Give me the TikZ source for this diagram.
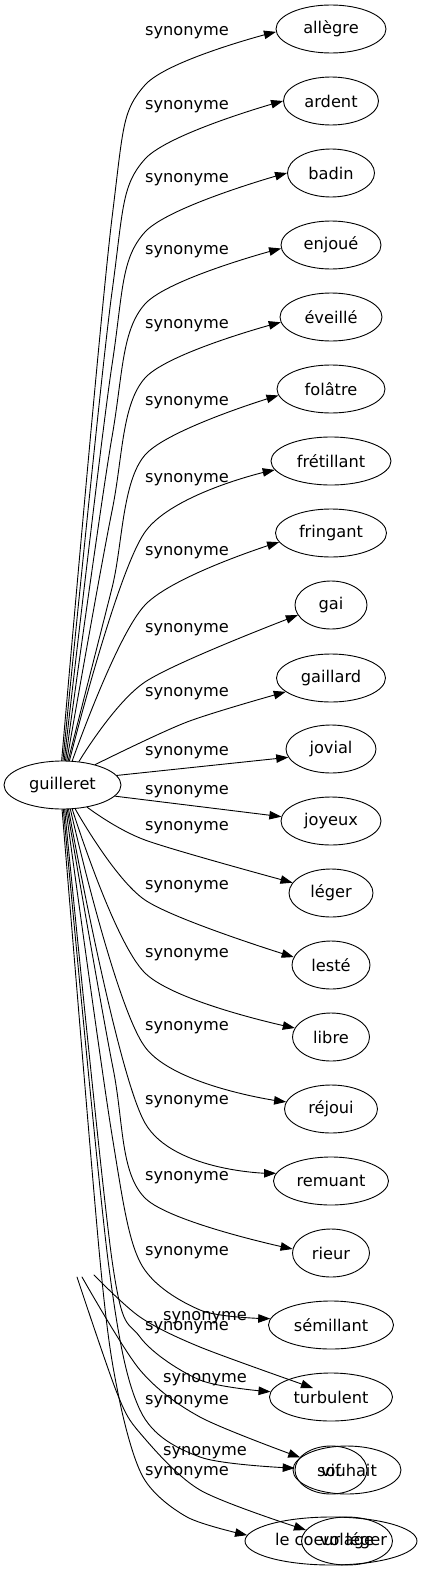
\documentclass[tikz,border=0pt]{standalone}
\usepackage{fontspec}
\setmainfont{DejaVu Sans}
\usetikzlibrary{arrows.meta,shapes.geometric}

\begin{document}
\begin{tikzpicture}[x=1pt,y=-1pt,line cap=round,line join=round,
  word/.style={draw,ellipse,line width=0.9pt,minimum height=48pt,inner sep=0pt,
    font=\fontsize{16.2pt}{19pt}\selectfont},
  lbl/.style={inner sep=0pt,font=\fontsize{16.2pt}{19pt}\selectfont},
  link/.style={line width=0.9pt,-{Triangle[length=12pt,width=8.5pt]}}]

\useasboundingbox (0,0) rectangle (422,1571);

% source word
\node[word,minimum width=117pt] (g) at (62.5,785) {guilleret};

% synonyms, one column
\node[word,minimum width=110pt] (allegre) at (331,29) {allègre};
\node[word,minimum width=95pt] (ardent) at (331,101) {ardent};
\node[word,minimum width=87pt] (badin) at (331,173) {badin};
\node[word,minimum width=100pt] (enjoue) at (331,245) {enjoué};
\node[word,minimum width=102pt] (eveille) at (331,317) {éveillé};
\node[word,minimum width=108pt] (folatre) at (331,389) {folâtre};
\node[word,minimum width=120pt] (fretillant) at (331,461) {frétillant};
\node[word,minimum width=111pt] (fringant) at (331,533) {fringant};
\node[word,minimum width=72pt] (gai) at (331,605) {gai};
\node[word,minimum width=109pt] (gaillard) at (331,678) {gaillard};
\node[word,minimum width=90pt] (jovial) at (331,749) {jovial};
\node[word,minimum width=100pt] (joyeux) at (331,821) {joyeux};
\node[word,minimum width=84pt] (leger) at (331,893) {léger};
\node[word,minimum width=78pt] (leste) at (331,965) {lesté};
\node[word,minimum width=77pt] (libre) at (331,1037) {libre};
\node[word,minimum width=93pt] (rejoui) at (331,1109) {réjoui};
\node[word,minimum width=115pt] (remuant) at (331,1181) {remuant};
\node[word,minimum width=77pt] (rieur) at (331,1253) {rieur};
\node[word,minimum width=125pt] (semillant) at (331,1325) {sémillant};
\node[word,minimum width=123pt] (turbulent) at (331,1397) {turbulent};
\node[word,minimum width=72pt] (vif) at (331,1470) {vif};
\node[word,minimum width=172pt] (coeur) at (331,1541) {le coeur léger};

% second layer lying over the bottom
\node[word,minimum width=108pt] (souhait) at (347,1470) {souhait};
\node[word,minimum width=91pt] (volage) at (347,1541) {volage};
\coordinate (o1) at (94,1275);
\coordinate (o2) at (82,1277);
\coordinate (o3) at (77,1277);
\coordinate (o4) at (313,1388);

% edge labels
\node[lbl] (l1) at (187,33) {synonyme};
\node[lbl] (l2) at (187,107) {synonyme};
\node[lbl] (l3) at (187,180) {synonyme};
\node[lbl] (l4) at (187,252) {synonyme};
\node[lbl] (l5) at (187,326) {synonyme};
\node[lbl] (l6) at (187,403) {synonyme};
\node[lbl] (l7) at (187,480) {synonyme};
\node[lbl] (l8) at (187,553) {synonyme};
\node[lbl] (l9) at (187,630) {synonyme};
\node[lbl] (l10) at (187,694) {synonyme};
\node[lbl] (l11) at (187,753) {synonyme};
\node[lbl] (l12) at (187,792) {synonyme};
\node[lbl] (l13) at (187,828) {synonyme};
\node[lbl] (l14) at (187,887) {synonyme};
\node[lbl] (l15) at (187,955) {synonyme};
\node[lbl] (l16) at (187,1028) {synonyme};
\node[lbl] (l17) at (187,1102) {synonyme};
\node[lbl] (l18) at (187,1178) {synonyme};
\node[lbl] (l19) at (187,1253) {synonyme};
\node[lbl] (l20) at (187,1328) {synonyme};
\node[lbl] (l21) at (187,1402) {synonyme};
\node[lbl] (l22) at (187,1473) {synonyme};
\node[lbl] (m1) at (205,1318) {synonyme};
\node[lbl] (m2) at (205,1380) {synonyme};
\node[lbl] (m3) at (205,1453) {synonyme};

% upper fan
\draw[link] plot[smooth] coordinates {(g.92) (112,218) (145,85) (allegre.183)};
\draw[link] plot[smooth] coordinates {(g.89) (112,292) (145,159) (ardent.180)};
\draw[link] plot[smooth] coordinates {(g.86) (112,365) (145,232) (badin.180)};
\draw[link] plot[smooth] coordinates {(g.83) (112,437) (145,304) (enjoue.184)};
\draw[link] plot[smooth] coordinates {(g.80) (112,511) (145,378) (eveille.186)};
\draw[link] plot[smooth] coordinates {(g.77) (112,588) (145,455) (folatre.187)};
\draw[link] plot[smooth] coordinates {(g.74) (145,532) (fretillant.189)};
\draw[link] plot[smooth] coordinates {(g.68) (145,605) (fringant.190)};
\draw[link] plot[smooth] coordinates {(g.55) (145,682) (gai.197)};
\draw[link] plot[smooth] coordinates {(g.32) (187,722) (gaillard.197)};

% middle
\draw[link] (g.10) -- (jovial.191);
\draw[link] (g.-12) -- (joyeux.175);

% lower fan
\draw[link] plot[smooth] coordinates {(g.-42) (145,840) (leger.165)};
\draw[link] plot[smooth] coordinates {(g.-62) (145,900) (leste.168)};
\draw[link] plot[smooth] coordinates {(g.-68) (145,973) (libre.166)};
\draw[link] plot[smooth] coordinates {(g.-72) (145,1047) (rejoui.171)};
\draw[link] plot[smooth] coordinates {(g.-76) (145,1123) (remuant.172)};
\draw[link] plot[smooth] coordinates {(g.-79) (113,1068) (145,1198) (rieur.174)};
\draw[link] plot[smooth] coordinates {(g.-82) (112,1135) (140,1262) (200,1310) (semillant.174)};
\draw[link] plot[smooth] coordinates {(g.-85) (112,1260) (140,1337) (200,1380) (turbulent.175)};
\draw[link] plot[smooth] coordinates {(g.-88) (108,1260) (140,1410) (200,1457) (vif.177)};
\draw[link] plot[smooth] coordinates {(g.-91) (100,1260) (118,1393) (143,1477) (187,1517) (coeur.176)};

% loose edges of the second layer
\draw[link] plot[smooth] coordinates {(o1) (140,1317) (200,1347) (o4)};
\draw[link] plot[smooth] coordinates {(o2) (140,1370) (200,1417) (souhait.165)};
\draw[link] plot[smooth] coordinates {(o3) (117,1393) (140,1433) (200,1490) (volage.165)};

\end{tikzpicture}
\end{document}
